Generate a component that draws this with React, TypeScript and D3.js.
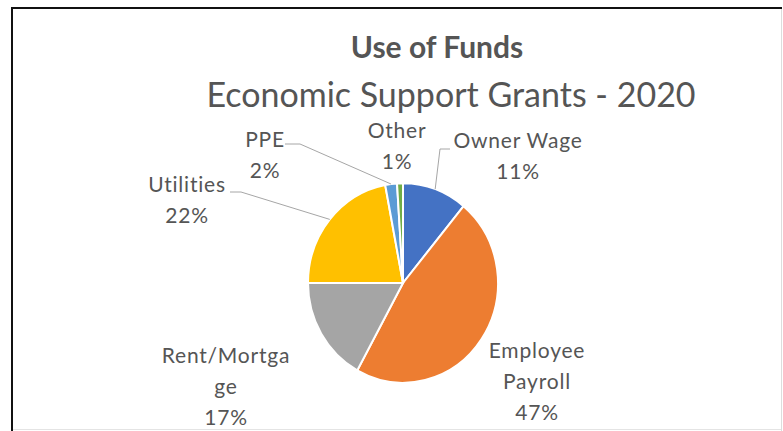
import { useMemo } from "react";
import * as d3 from "d3";

const width = 783;
const height = 431;

// slice data, clockwise from 12 o'clock
const categories = ["Owner Wage", "Employee Payroll", "Rent/Mortgage", "Utilities", "PPE", "Other"];
const values = [11, 47, 17, 22, 2, 1];
const colors = ["#4472C4", "#ED7D31", "#A5A5A5", "#FFC000", "#5B9BD5", "#70AD47"];
// label text as it wraps in the picture
const labelLines = [
    ["Owner Wage", "11%"],
    ["Employee", "Payroll", "47%"],
    ["Rent/Mortga", "ge", "17%"],
    ["Utilities", "22%"],
    ["PPE", "2%"],
    ["Other", "1%"],
];

// layout
const cx = 403;
const cy = 283;
const radius = 95;
const yStretch = 1.05;
const lineGap = 31;
const labelPos = [
    { x: 518, y: 148 },
    { x: 537, y: 358 },
    { x: 226, y: 363 },
    { x: 187, y: 192 },
    { x: 265, y: 147 },
    { x: 397, y: 138 },
];
// leader start points (label side) and elbow; null = no leader
const leaders = [
    { from: [450, 149], elbow: [440, 149] },
    null,
    null,
    { from: [230, 192], elbow: [241, 192] },
    { from: [285, 144], elbow: [300, 144] },
    null,
];

const textColor = "#555555";
const font = "Lato, 'Liberation Sans', sans-serif";

const App = () => {
    const arcs = useMemo(
        () => d3.pie<number>().sort(null).value((d) => d)(values),
        []
    );
    const arc = d3.arc<d3.PieArcDatum<number>>().innerRadius(0).outerRadius(radius);

    // point on the outer edge at a slice's mid angle, in page coords
    const edgePoint = (a: d3.PieArcDatum<number>) => {
        const mid = (a.startAngle + a.endAngle) / 2;
        return [cx + Math.sin(mid) * radius, cy - Math.cos(mid) * radius * yStretch];
    };

    return (
        <svg
            width={width}
            height={height}
            style={{ position: "absolute", left: 0, top: 0, background: "#fff" }}
        >
            {/* frame */}
            <line x1={11} y1={8} x2={782} y2={8} stroke="#111" strokeWidth={2} />
            <line x1={12} y1={7} x2={12} y2={431} stroke="#111" strokeWidth={2} />
            <line x1={781.5} y1={9} x2={781.5} y2={431} stroke="#ddd" strokeWidth={1} />
            <line x1={13} y1={429.5} x2={781} y2={429.5} stroke="#e4e4e4" strokeWidth={1} />

            <text x={437} y={58} textAnchor="middle" fontFamily={font} fontWeight="bold"
                fontSize={30} fill={textColor}>
                Use of Funds
            </text>
            <text x={451} y={107} textAnchor="middle" fontFamily={font}
                fontSize={34} fill={textColor}>
                Economic Support Grants - 2020
            </text>

            <g transform={`translate(${cx},${cy}) scale(1,${yStretch})`}>
                {arcs.map((a, i) => (
                    <path key={categories[i]} d={arc(a) ?? ""} fill={colors[i]}
                        stroke="#fff" strokeWidth={2} vectorEffect="non-scaling-stroke" />
                ))}
            </g>

            <g fill="none" stroke="#a6a6a6" strokeWidth={1}>
                {arcs.map((a, i) => {
                    const l = leaders[i];
                    if (!l) return null;
                    const p = edgePoint(a);
                    return (
                        <polyline key={i}
                            points={[l.from, l.elbow, p].map((q) => q.join(",")).join(" ")} />
                    );
                })}
            </g>

            <g fontFamily={font} fontSize={21} letterSpacing={0.8} fill={textColor} textAnchor="middle">
                {labelLines.map((lines, i) => (
                    <text key={i} x={labelPos[i].x} y={labelPos[i].y}>
                        {lines.map((t, j) => (
                            <tspan key={j} x={labelPos[i].x} dy={j === 0 ? 0 : lineGap}>{t}</tspan>
                        ))}
                    </text>
                ))}
            </g>
        </svg>
    );
};

export default App;
